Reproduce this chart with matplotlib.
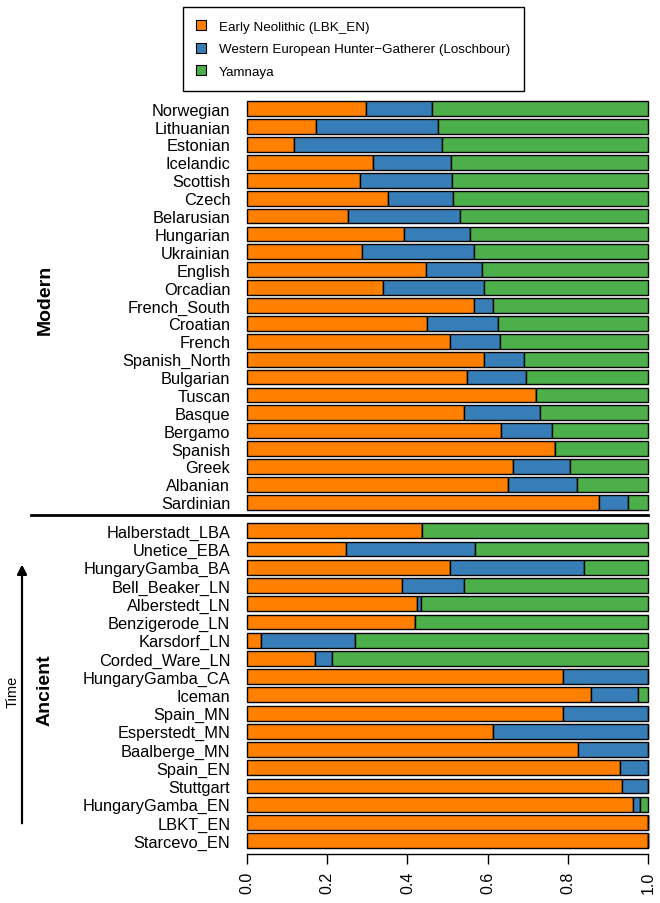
import matplotlib
matplotlib.use("Agg")
import matplotlib.pyplot as plt
from matplotlib.patches import Patch
from matplotlib.lines import Line2D

plt.rcParams["font.family"] = ["Liberation Sans", "DejaVu Sans"]

# ── data (top to bottom) ──
modern = ["Norwegian", "Lithuanian", "Estonian", "Icelandic", "Scottish", "Czech",
          "Belarusian", "Hungarian", "Ukrainian", "English", "Orcadian", "French_South",
          "Croatian", "French", "Spanish_North", "Bulgarian", "Tuscan", "Basque",
          "Bergamo", "Spanish", "Greek", "Albanian", "Sardinian"]
modern_en = [0.298, 0.172, 0.117, 0.313, 0.283, 0.352, 0.252, 0.392, 0.287, 0.446,
             0.339, 0.566, 0.450, 0.507, 0.591, 0.549, 0.720, 0.541, 0.633, 0.768,
             0.663, 0.651, 0.877]
modern_whg = [0.163, 0.304, 0.370, 0.195, 0.228, 0.162, 0.278, 0.165, 0.278, 0.141,
              0.252, 0.047, 0.177, 0.123, 0.101, 0.147, 0.000, 0.190, 0.128, 0.000,
              0.142, 0.173, 0.074]

ancient = ["Halberstadt_LBA", "Unetice_EBA", "HungaryGamba_BA", "Bell_Beaker_LN",
           "Alberstedt_LN", "Benzigerode_LN", "Karsdorf_LN", "Corded_Ware_LN",
           "HungaryGamba_CA", "Iceman", "Spain_MN", "Esperstedt_MN", "Baalberge_MN",
           "Spain_EN", "Stuttgart", "HungaryGamba_EN", "LBKT_EN", "Starcevo_EN"]
ancient_en = [0.436, 0.247, 0.507, 0.387, 0.425, 0.419, 0.035, 0.169, 0.787, 0.857,
              0.787, 0.613, 0.825, 0.929, 0.935, 0.963, 1.000, 1.000]
ancient_whg = [0.000, 0.322, 0.334, 0.155, 0.008, 0.000, 0.235, 0.044, 0.213, 0.119,
               0.213, 0.387, 0.175, 0.071, 0.065, 0.017, 0.000, 0.000]

legend_labels = ["Early Neolithic (LBK_EN)",
                 "Western European Hunter\u2212Gatherer (Loschbour)",
                 "Yamnaya"]
COLORS = ["#FF7F00", "#377EB8", "#4DAF4A"]

# ── layout (axes y units = image pixels from top) ──
W, H = 660, 904
AX_TOP, AX_BOT = 98, 855
fig = plt.figure(figsize=(W / 100, H / 100), dpi=100)
ax = fig.add_axes([247 / W, 1 - AX_BOT / H, (648 - 247) / W, (AX_BOT - AX_TOP) / H])

labels = modern + ancient
en = modern_en + ancient_en
whg = modern_whg + ancient_whg
yam = [max(0.0, 1 - a - b) for a, b in zip(en, whg)]
ypos = ([109.7 + i * 17.89 for i in range(len(modern))] +
        [531.7 + j * 18.24 for j in range(len(ancient))])

bh = 14.8
for vals, left, c in [(en, [0] * len(en), COLORS[0]),
                      (whg, en, COLORS[1]),
                      (yam, [a + b for a, b in zip(en, whg)], COLORS[2])]:
    ax.barh(ypos, vals, left=left, height=bh, color=c,
            edgecolor="black", linewidth=1.0, clip_on=False)

ax.set_xlim(0, 1)
ax.set_ylim(AX_BOT, AX_TOP)
ax.set_yticks(ypos)
ax.set_yticklabels(labels, fontsize=11.8)
ax.tick_params(axis="y", length=0, pad=12)
ax.set_xticks([0, 0.2, 0.4, 0.6, 0.8, 1.0])
ax.set_xticklabels(["0.0", "0.2", "0.4", "0.6", "0.8", "1.0"], rotation=90, fontsize=11.5)
ax.tick_params(axis="x", length=7, width=1, pad=5)
for s in ["top", "right", "left"]:
    ax.spines[s].set_visible(False)
ax.spines["bottom"].set_bounds(0, 1)
ax.spines["bottom"].set_linewidth(1)
ax.patch.set_visible(False)

# separator between modern and ancient
fig.add_artist(Line2D([31 / W, 648 / W], [1 - 516 / H, 1 - 516 / H],
                      color="black", linewidth=2))

# group labels
fig.text(45 / W, 1 - 300 / H, "Modern", rotation=90, fontsize=14,
         fontweight="bold", ha="center", va="center")
fig.text(45 / W, 1 - 690 / H, "Ancient", rotation=90, fontsize=14,
         fontweight="bold", ha="center", va="center")
fig.text(13 / W, 1 - 692 / H, "Time", rotation=90, fontsize=10.5,
         ha="center", va="center")
fig.add_artist(plt.annotate("", xy=(22 / W, 1 - 563 / H), xytext=(22 / W, 1 - 827 / H),
                            xycoords="figure fraction",
                            arrowprops=dict(arrowstyle="-|>", color="black", lw=1.5,
                                            mutation_scale=14)))

# legend
handles = [Patch(facecolor=c, edgecolor="black", linewidth=0.8) for c in COLORS]
fig.legend(handles, legend_labels, loc="upper left",
           bbox_to_anchor=(183 / W, 1 - 8 / H), fontsize=9.6,
           frameon=True, fancybox=False, edgecolor="black", framealpha=1,
           handlelength=0.75, handleheight=0.75, handletextpad=0.95,
           labelspacing=0.75, borderpad=1.0, borderaxespad=0)

fig.savefig("out.png", dpi=100)
